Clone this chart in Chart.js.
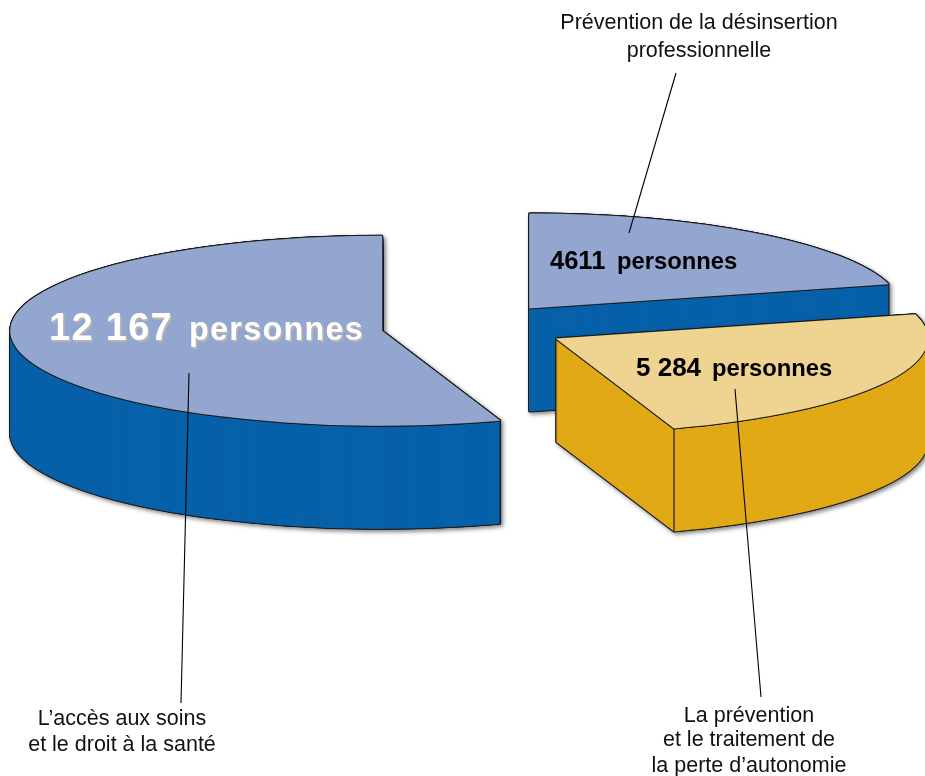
<!DOCTYPE html>
<html><head><meta charset="utf-8">
<style>html,body{margin:0;padding:0;background:#fff}canvas{display:block}</style>
<script src="https://cdn.jsdelivr.net/npm/chart.js@4"></script>
</head><body><canvas id="c" width="925" height="776"></canvas>
<script>
const categories = ["Prévention de la désinsertion professionnelle", "La prévention et le traitement de la perte d’autonomie", "L’accès aux soins et le droit à la santé"];
const values = [4611, 5284, 12167];
const topColors = ["#92a6cf", "#efd391", "#92a6cf"];
const sideColors = ["#0761a9", "#e1a916", "#0761a9"];
const explode = [92, 94, 92];

const RADIUS = 372, SQUASH = 95 / 372, CENTER_Y = 327, DEPTH = 103, OUTLINE = "#1c1c1c";
const FONT = '"Liberation Sans", Arial, sans-serif';

const captions = [
  { lines: ["Prévention de la désinsertion", "professionnelle"], x: 699, y: [29, 57] },
  { lines: ["La prévention", "et le traitement de", "la perte d’autonomie"], x: 749, y: [722, 746, 772] },
  { lines: ["L’accès aux soins", "et le droit à la santé"], x: 122, y: [725, 751] }
];
const leaders = [[676, 73, 629, 233], [735, 389, 761, 697], [189, 373, 181, 703]];
const amounts = [
  { parts: [["4611", 25.5, 550], ["personnes", 23.8, 617]], y: 269, color: "#000" },
  { parts: [["5 284", 26, 636], ["personnes", 23.8, 712]], y: 376, color: "#000" },
  { parts: [["12 167", 38, 49], ["personnes", 32.3, 189]], y: 340, color: "#fff", spacing: "1.3px", shadow: "#b9b6ae" }
];

function place(ctx, arc, i, dx, dy) {
  const mid = (arc.startAngle + arc.endAngle) / 2;
  ctx.translate(dx, CENTER_Y + dy);
  ctx.scale(1, SQUASH);
  ctx.translate(0, -arc.y);
  ctx.translate(Math.cos(mid) * explode[i], Math.sin(mid) * explode[i]);
}
function paint(ctx, arc, i, color, dx, dy) {
  const saved = arc.options;
  arc.options = Object.assign({}, saved, { backgroundColor: color, borderWidth: 0, offset: 0, spacing: 0 });
  ctx.save();
  place(ctx, arc, i, dx, dy);
  arc.draw(ctx);
  ctx.restore();
  arc.options = saved;
}
const around = [[-1,0],[1,0],[0,-1],[0,1],[-.75,-.75],[.75,-.75],[-.75,.75],[.75,.75]];

const pie3d = {
  id: "pie3d",
  beforeDatasetDraw(chart, args) {
    const ctx = chart.ctx, arcs = args.meta.data;
    arcs.forEach((arc, i) => {
      const off = document.createElement("canvas");
      off.width = chart.width; off.height = chart.height;
      const o = off.getContext("2d");
      for (let d = 0; d <= DEPTH; d++) for (const [x, y] of around) paint(o, arc, i, OUTLINE, x, d + y);
      ctx.save();
      ctx.shadowColor = "rgba(0,0,0,.5)"; ctx.shadowBlur = 4; ctx.shadowOffsetX = 2; ctx.shadowOffsetY = 2;
      ctx.drawImage(off, 0, 0);
      ctx.restore();
      for (let d = DEPTH; d > 0; d--) paint(ctx, arc, i, sideColors[i], 0, d);
      const mid = (arc.startAngle + arc.endAngle) / 2;
      for (const a of [arc.startAngle, arc.endAngle]) {
        if (Math.sin(a) <= 0) continue;
        const px = arc.x + Math.cos(mid) * explode[i] + Math.cos(a) * arc.outerRadius;
        const py = CENTER_Y + SQUASH * (Math.sin(mid) * explode[i] + Math.sin(a) * arc.outerRadius);
        ctx.save();
        ctx.strokeStyle = OUTLINE; ctx.lineWidth = 1.2;
        ctx.beginPath(); ctx.moveTo(px, py); ctx.lineTo(px, py + DEPTH); ctx.stroke();
        ctx.restore();
      }
      for (const [x, y] of around) paint(ctx, arc, i, OUTLINE, x, y);
      paint(ctx, arc, i, topColors[i], 0, 0);
    });
    return false;
  },
  afterDatasetsDraw(chart) {
    const ctx = chart.ctx;
    ctx.save();
    ctx.strokeStyle = "#000"; ctx.lineWidth = 1.1;
    for (const [a, b, c, d] of leaders) { ctx.beginPath(); ctx.moveTo(a, b); ctx.lineTo(c, d); ctx.stroke(); }
    ctx.textBaseline = "alphabetic";
    ctx.fillStyle = "#111"; ctx.textAlign = "center"; ctx.font = "21.5px " + FONT;
    for (const c of captions) c.lines.forEach((t, k) => ctx.fillText(t, c.x, c.y[k]));
    ctx.textAlign = "left";
    for (const a of amounts) {
      ctx.letterSpacing = a.spacing || "0px";
      for (const [t, size, x] of a.parts) {
        ctx.font = "bold " + size + "px " + FONT;
        if (a.shadow) { ctx.fillStyle = a.shadow; ctx.fillText(t, x + 1.5, a.y + 1.5); }
        ctx.fillStyle = a.color;
        ctx.fillText(t, x, a.y);
      }
    }
    ctx.restore();
  }
};

new Chart(document.getElementById("c"), {
  type: "pie",
  data: { labels: categories, datasets: [{ data: values, backgroundColor: topColors, borderWidth: 0 }] },
  options: {
    responsive: false, animation: false, radius: RADIUS,
    layout: { padding: { left: 21 } },
    plugins: { legend: { display: false }, tooltip: { enabled: false } }
  },
  plugins: [pie3d]
});
</script></body></html>
